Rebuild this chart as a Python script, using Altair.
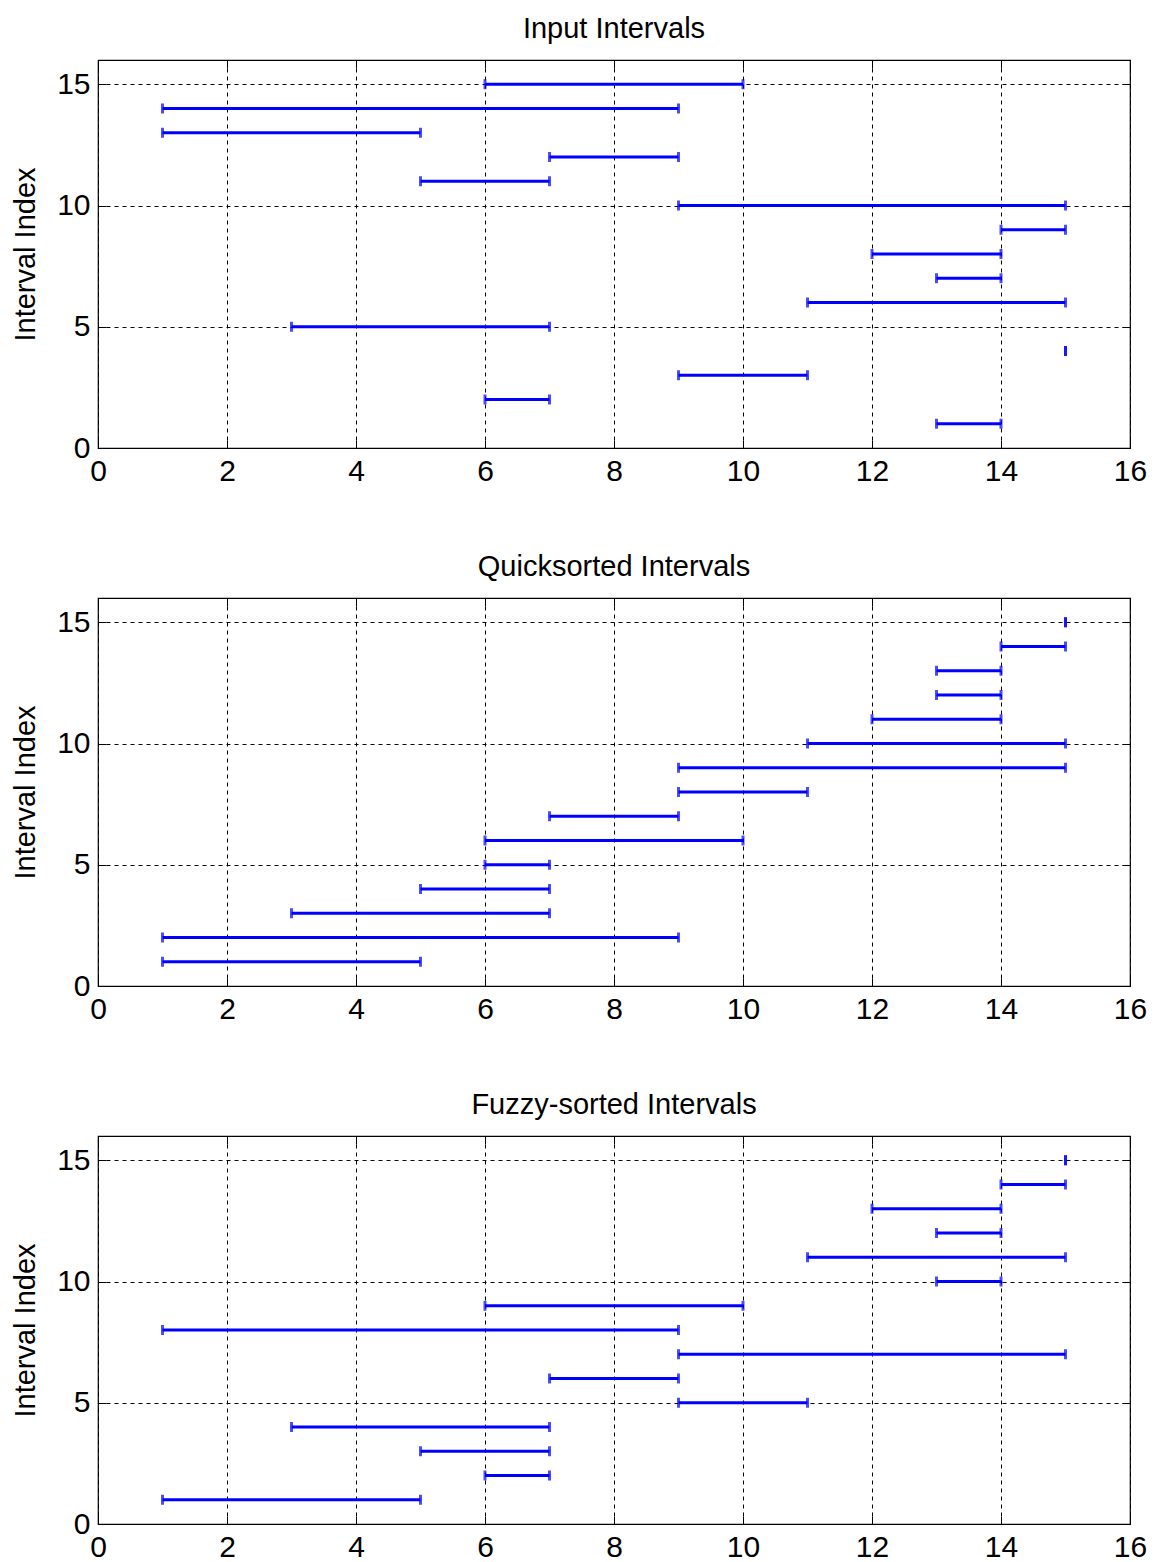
import altair as alt
import pandas as pd

titles = ["Input Intervals", "Quicksorted Intervals", "Fuzzy-sorted Intervals"]
index = list(range(1, 16))
input_starts = [13, 6, 9, 15, 3, 11, 13, 12, 14, 9, 5, 7, 1, 1, 6]
input_ends = [14, 7, 11, 15, 7, 15, 14, 14, 15, 15, 7, 9, 5, 9, 10]
quick_starts = [1, 1, 3, 5, 6, 6, 7, 9, 9, 11, 12, 13, 13, 14, 15]
quick_ends = [5, 9, 7, 7, 7, 10, 9, 11, 15, 15, 14, 14, 14, 15, 15]
fuzzy_starts = [1, 6, 5, 3, 9, 7, 9, 1, 6, 13, 11, 13, 12, 14, 15]
fuzzy_ends = [5, 7, 7, 7, 11, 9, 15, 9, 10, 14, 15, 14, 14, 15, 15]
x_ticks = [0, 2, 4, 6, 8, 10, 12, 14, 16]
y_ticks = [0, 5, 10, 15]

W, H = 1032, 388
FONT = "Liberation Sans"
BLUE = "#0000ff"


def panel(title, starts, ends):
    df = pd.DataFrame({"idx": index, "start": starts, "end": ends})
    xs = alt.Scale(domain=[0, 16], nice=False, zero=False)
    ys = alt.Scale(domain=[0, 16], nice=False, zero=False)
    grid = dict(grid=True, gridColor="black", gridDash=[4, 4], gridWidth=1, gridOpacity=1)
    lab = dict(labelFontSize=30, labelFont=FONT, labelColor="black", labelPadding=8,
               labelFlush=False, labelOverlap=False)
    extra = dict(labels=False, ticks=True, tickSize=8, tickColor="black", tickWidth=1,
                 domain=False, grid=False, title=None)
    base = alt.Chart(df)
    main = base.mark_rule(color=BLUE, strokeWidth=3).encode(
        x=alt.X("start:Q", scale=xs,
                axis=alt.Axis(orient="bottom", values=x_ticks, title=None, ticks=False,
                              domain=False, **grid, **lab)),
        x2="end:Q",
        y=alt.Y("idx:Q", scale=ys,
                axis=alt.Axis(orient="left", values=y_ticks, title="Interval Index",
                              titleFontSize=29, titleFont=FONT, titleFontWeight="normal",
                              titleColor="black", titlePadding=16, ticks=False,
                              domain=False, **grid, **lab)),
    )
    cap_start = base.mark_tick(color=BLUE, thickness=3, size=10, orient="vertical").encode(
        x=alt.X("start:Q", scale=xs,
                axis=alt.Axis(orient="top", offset=-H, values=x_ticks, **extra)),
        y=alt.Y("idx:Q", scale=ys,
                axis=alt.Axis(orient="right", offset=-W, values=y_ticks, **extra)),
    )
    cap_end = base.mark_tick(color=BLUE, thickness=3, size=10, orient="vertical").encode(
        x=alt.X("end:Q", scale=xs,
                axis=alt.Axis(orient="bottom", offset=-H, values=x_ticks, **extra)),
        y=alt.Y("idx:Q", scale=ys,
                axis=alt.Axis(orient="left", offset=-W, values=y_ticks, **extra)),
    )
    return alt.layer(main, cap_start, cap_end).resolve_axis(
        x="independent", y="independent"
    ).properties(
        width=W, height=H,
        title=alt.TitleParams(title, fontSize=29, font=FONT, fontWeight="normal",
                              color="black", offset=16, frame="group", anchor="middle"),
    )


chart = alt.vconcat(
    panel(titles[0], input_starts, input_ends),
    panel(titles[1], quick_starts, quick_ends),
    panel(titles[2], fuzzy_starts, fuzzy_ends),
    spacing=64,
).configure_view(stroke="black", strokeWidth=1.2).properties(
    background="white", padding={"left": 3, "top": 5, "right": 0, "bottom": 0}
)

chart.save("out.html", embed_options={"renderer": "svg", "actions": False})
